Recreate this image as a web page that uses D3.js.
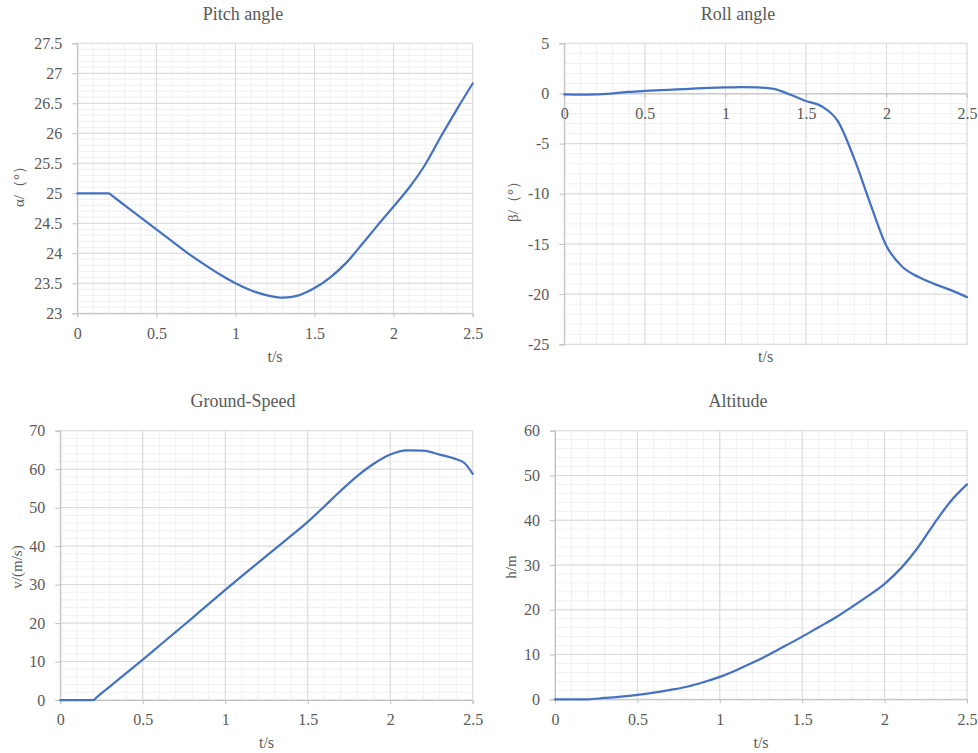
<!DOCTYPE html>
<html>
<head>
<meta charset="utf-8">
<script src="https://cdn.jsdelivr.net/npm/d3@7"></script>
<style>
  html, body { margin: 0; padding: 0; background: #fff; }
  svg { display: block; }
  svg text { font-family: "Liberation Serif", "Times New Roman", serif !important; fill: #595959; }
</style>
</head>
<body>
<svg id="chart" width="978" height="753" font-family="Liberation Serif"></svg>
<script>
// ---------- DATA ----------
const timeStd = [0,0.1,0.2,0.3,0.4,0.5,0.6,0.7,0.8,0.9,1.0,1.1,1.2,1.3,1.4,1.5,1.6,1.7,1.8,1.9,2.0,2.1,2.2,2.3,2.4,2.5];
const timePitch = [0,0.1,0.2,0.22,0.3,0.4,0.5,0.6,0.7,0.8,0.9,1.0,1.1,1.2,1.3,1.4,1.5,1.6,1.7,1.8,1.9,2.0,2.1,2.2,2.3,2.4,2.5];
const pitchValues = [25,25,25,24.96,24.8,24.6,24.4,24.2,24.0,23.82,23.65,23.5,23.38,23.3,23.26,23.3,23.42,23.6,23.84,24.15,24.47,24.78,25.1,25.48,25.95,26.4,26.83];
const rollValues = [-0.1,-0.12,-0.1,0.0,0.15,0.25,0.33,0.4,0.48,0.55,0.6,0.63,0.6,0.45,-0.1,-0.75,-1.3,-2.8,-6.5,-11.0,-15.2,-17.3,-18.3,-19.0,-19.6,-20.3];
const timeSpeed = [0,0.1,0.2,0.22,0.3,0.4,0.5,0.6,0.7,0.8,0.9,1.0,1.1,1.2,1.3,1.4,1.5,1.6,1.7,1.8,1.9,2.0,2.1,2.2,2.3,2.4,2.45,2.5];
const speedValues = [0,0,0,0.7,3.5,7.0,10.5,14.1,17.7,21.3,25.0,28.6,32.2,35.7,39.2,42.7,46.3,50.3,54.4,58.2,61.4,63.8,64.9,64.8,63.8,62.6,61.6,58.8];
const altitudeValues = [0,0,0,0.3,0.6,1.0,1.5,2.1,2.8,3.8,5.0,6.5,8.2,10.0,12.0,14.0,16.1,18.2,20.6,23.1,25.8,29.3,33.8,39.2,44.2,48.0];

const xTicks = [0,0.5,1,1.5,2,2.5];
const pitchTicks = [23,23.5,24,24.5,25,25.5,26,26.5,27,27.5];
const rollTicks = [-25,-20,-15,-10,-5,0,5];
const speedTicks = [0,10,20,30,40,50,60,70];
const altitudeTicks = [0,10,20,30,40,50,60];

const titles = ["Pitch angle","Roll angle","Ground-Speed","Altitude"];
const yLabels = ["α/（°）","β/（°）","v/(m/s)","h/m"];
const xLabel = "t/s";

// ---------- LAYOUT ----------
const panels = [
  { t: timePitch, v: pitchValues, yTicks: pitchTicks, minor: 0.1, box: [77.3, 472.7, 43.3, 313.3], titleX: 243, titleY: 20, ylx: 19, yly: 183, xlY: 362, xAxisAt: null },
  { t: timeStd, v: rollValues, yTicks: rollTicks, minor: 1, box: [564.3, 967, 43.3, 344.3], titleX: 738, titleY: 20, ylx: 513, yly: 198, xlY: 362, xAxisAt: 0 },
  { t: timeSpeed, v: speedValues, yTicks: speedTicks, minor: 2, box: [60.3, 472.7, 430.7, 700], titleX: 243, titleY: 407, ylx: 17, yly: 567, xlY: 748, xAxisAt: null },
  { t: timeStd, v: altitudeValues, yTicks: altitudeTicks, minor: 2, box: [555, 967, 430.7, 699.3], titleX: 738, titleY: 407, ylx: 511, yly: 567, xlY: 748, xAxisAt: null }
];

const svg = d3.select("#chart");
const serif = "Liberation Serif";

panels.forEach((p, i) => {
  const [x0, x1, y0, y1] = p.box;
  const yMin = p.yTicks[0], yMax = p.yTicks[p.yTicks.length - 1];
  const x = d3.scaleLinear().domain([0, 2.5]).range([x0, x1]);
  const y = d3.scaleLinear().domain([yMin, yMax]).range([y1, y0]);
  const g = svg.append("g");

  // minor grid
  const xMinor = d3.range(0, 26).map(k => k * 0.1);
  const nMinorY = Math.round((yMax - yMin) / p.minor);
  const yMinor = d3.range(0, nMinorY + 1).map(k => yMin + k * p.minor);
  g.selectAll(".mx").data(xMinor).enter().append("line")
    .attr("x1", d => x(d)).attr("x2", d => x(d)).attr("y1", y0).attr("y2", y1)
    .attr("stroke", "#f0f0f0").attr("stroke-width", 1);
  g.selectAll(".my").data(yMinor).enter().append("line")
    .attr("x1", x0).attr("x2", x1).attr("y1", d => y(d)).attr("y2", d => y(d))
    .attr("stroke", "#f0f0f0").attr("stroke-width", 1);
  // major grid
  g.selectAll(".Mx").data(xTicks).enter().append("line")
    .attr("x1", d => x(d)).attr("x2", d => x(d)).attr("y1", y0).attr("y2", y1)
    .attr("stroke", "#d9d9d9").attr("stroke-width", 1);
  g.selectAll(".My").data(p.yTicks).enter().append("line")
    .attr("x1", x0).attr("x2", x1).attr("y1", d => y(d)).attr("y2", d => y(d))
    .attr("stroke", "#d9d9d9").attr("stroke-width", 1);

  // y axis
  const ya = g.append("g").attr("transform", `translate(${x0},0)`)
    .call(d3.axisLeft(y).tickValues(p.yTicks).tickSize(5).tickPadding(10).tickFormat(d => String(d)));
  ya.attr("font-family", serif).attr("font-size", 16);
  ya.select(".domain").attr("stroke", "#bfbfbf");
  ya.selectAll(".tick line").attr("stroke", "#bfbfbf");
  ya.selectAll("text").attr("fill", "#595959");

  // x axis
  const axY = p.xAxisAt === null ? y1 : y(p.xAxisAt);
  const xa = g.append("g").attr("transform", `translate(0,${axY})`)
    .call(d3.axisBottom(x).tickValues(xTicks).tickSize(4).tickPadding(10).tickFormat(d => String(d)));
  xa.attr("font-family", serif).attr("font-size", 16);
  xa.select(".domain").attr("stroke", "#bfbfbf");
  xa.selectAll(".tick line").attr("stroke", "#bfbfbf");
  xa.selectAll("text").attr("fill", "#595959");

  // line
  const line = d3.line().x((d, k) => x(p.t[k])).y(d => y(d)).curve(d3.curveMonotoneX);
  g.append("path").datum(p.v).attr("d", line)
    .attr("fill", "none").attr("stroke", "#4472C4").attr("stroke-width", 2.25)
    .attr("stroke-linejoin", "round").attr("stroke-linecap", "round");

  // title
  g.append("text").attr("x", p.titleX).attr("y", p.titleY).attr("text-anchor", "middle")
    .attr("font-size", 18).text(titles[i]);
  // x label
  g.append("text").attr("x", (x0 + x1) / 2).attr("y", p.xlY).attr("text-anchor", "middle")
    .attr("font-size", 16).text(xLabel);
  // y label
  g.append("text").attr("transform", `translate(${p.ylx},${p.yly}) rotate(-90)`)
    .attr("text-anchor", "middle").attr("dominant-baseline", "central")
    .attr("font-size", 15).text(yLabels[i]);
});
</script>
</body>
</html>
